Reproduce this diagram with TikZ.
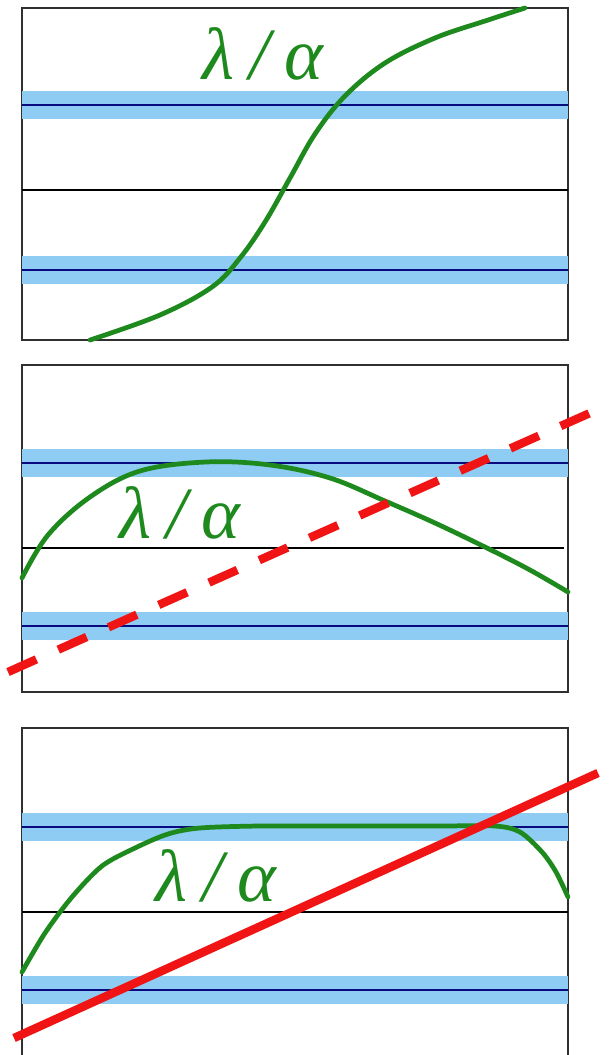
\documentclass[tikz,border=0pt]{standalone}
\usepackage{fontspec}
\newfontfamily\ratiofont{Liberation Serif}
\usepackage{tikz}
\definecolor{bandblue}{HTML}{8ECCF4}
\definecolor{levelblue}{HTML}{0A0A80}
\definecolor{curvegreen}{HTML}{1E8A1E}
\definecolor{fitred}{HTML}{F01414}
\definecolor{framegray}{HTML}{303030}

\begin{document}
\begin{tikzpicture}[x=0.02cm, y=-0.02cm,
  frame/.style={draw=framegray, line width=1.2pt, fill=white},
  band/.style={bandblue, line width=0.56cm},
  level/.style={levelblue, line width=0.9pt},
  midline/.style={black, line width=0.9pt},
  curve/.style={curvegreen, line width=2.7pt, line cap=round, line join=round},
  fitline/.style={fitred, line width=4.8pt},
  ratio/.style={text=curvegreen, font=\ratiofont\itshape\fontsize{42}{42}\selectfont, inner sep=0pt},
]
\useasboundingbox (0,0) rectangle (611,1055);
\fill[white] (0,0) rectangle (611,1055);

\draw[frame] (22,8) rectangle (568,340);
\draw[band] (22,105) -- (568,105);
\draw[band] (22,270) -- (568,270);
\draw[level] (22,105) -- (568,105);
\draw[level] (22,270) -- (568,270);
\draw[midline] (22,190) -- (568,190);
\draw[curve] plot[smooth, tension=0.6] coordinates {(90,340) (160,315) (212,287) (240,258) (265,222) (290,178) (315,134) (345,96) (385,63) (435,38) (485,21) (525,8)};
\node[ratio] (lab1) at (263,54) {λ\hspace{0.2em}/\hspace{0.2em}α};

\draw[frame] (22,365) rectangle (568,692);
\draw[band] (22,463) -- (568,463);
\draw[band] (22,626) -- (568,626);
\draw[level] (22,463) -- (568,463);
\draw[level] (22,626) -- (568,626);
\draw[midline] (22,548) -- (564,548);
\draw[curve] plot[smooth, tension=0.6] coordinates {(22,578) (48,535) (90,497) (140,471) (206,462) (270,465) (330,478) (385,501) (435,523) (487,548) (530,570) (568,592)};
\draw[fitline, dash pattern=on 17.7pt off 13.6pt] (8,672) -- (590,413);
\node[ratio] (lab2) at (180,513) {λ\hspace{0.2em}/\hspace{0.2em}α};

\draw[frame] (22,728) rectangle (568,1062);
\draw[band] (22,827) -- (568,827);
\draw[band] (22,990) -- (568,990);
\draw[level] (22,827) -- (568,827);
\draw[level] (22,990) -- (568,990);
\draw[midline] (22,912) -- (568,912);
\draw[curve] plot[smooth, tension=0.5] coordinates {(22,972) (45,933) (72,897) (102,866) (135,848) (168,834) (200,828) (260,826) (350,826) (440,826) (495,826) (520,832) (542,852) (556,872) (568,897)};
\draw[fitline] (14,1038) -- (598,773);
\node[ratio] (lab3) at (216,876) {λ\hspace{0.2em}/\hspace{0.2em}α};
\end{tikzpicture}
\end{document}
